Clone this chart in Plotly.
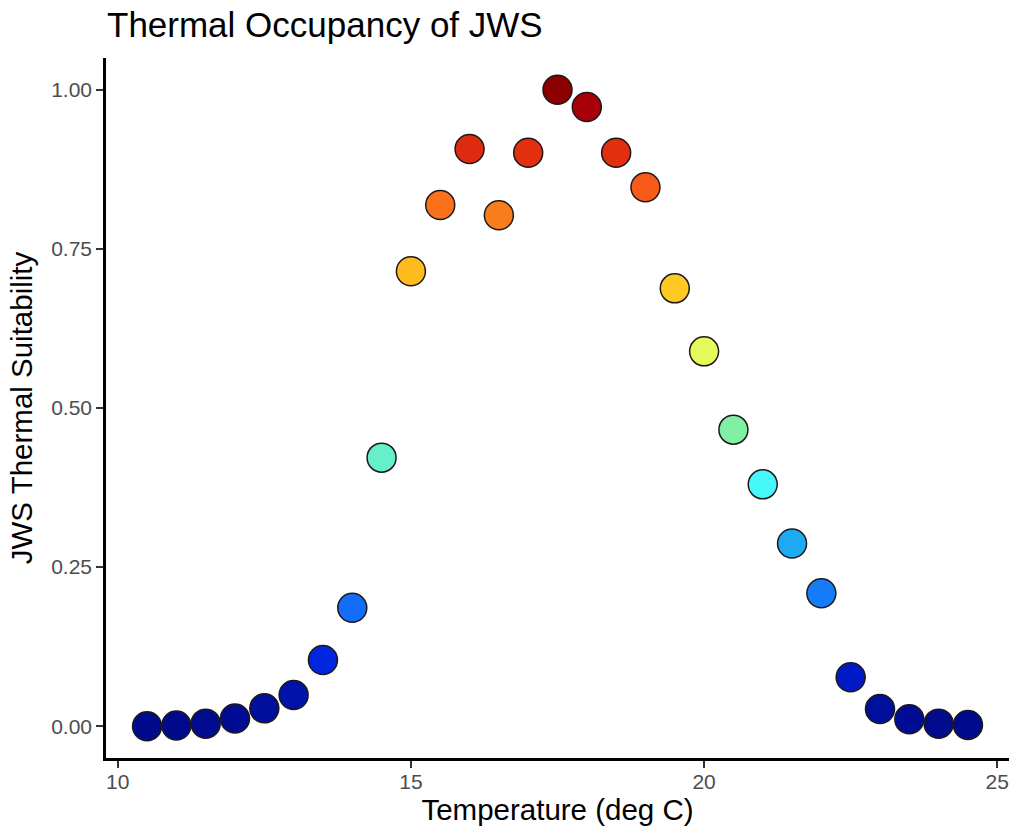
import plotly.graph_objects as go

temperature = [10.5, 11, 11.5, 12, 12.5, 13, 13.5, 14, 14.5, 15, 15.5, 16, 16.5, 17,
               17.5, 18, 18.5, 19, 19.5, 20, 20.5, 21, 21.5, 22, 22.5, 23, 23.5, 24, 24.5]
suitability = [0.000, 0.001, 0.004, 0.012, 0.028, 0.049, 0.104, 0.186, 0.422, 0.715,
               0.819, 0.907, 0.803, 0.901, 1.000, 0.973, 0.901, 0.847, 0.688, 0.589,
               0.466, 0.380, 0.287, 0.209, 0.077, 0.027, 0.011, 0.004, 0.002]

x_ticks = [10, 15, 20, 25]
y_ticks = [0.0, 0.25, 0.5, 0.75, 1.0]
y_ticklabels = ["0.00", "0.25", "0.50", "0.75", "1.00"]

# jet-like fill scale (style)
colorscale = [
    [0.00, "rgb(0,10,140)"],
    [0.05, "rgb(0,18,170)"],
    [0.10, "rgb(0,35,222)"],
    [0.19, "rgb(20,112,250)"],
    [0.29, "rgb(30,172,242)"],
    [0.38, "rgb(70,248,250)"],
    [0.42, "rgb(100,240,205)"],
    [0.47, "rgb(130,240,162)"],
    [0.59, "rgb(230,250,90)"],
    [0.69, "rgb(255,200,35)"],
    [0.72, "rgb(255,185,30)"],
    [0.81, "rgb(250,120,28)"],
    [0.85, "rgb(248,88,28)"],
    [0.90, "rgb(226,48,15)"],
    [0.97, "rgb(170,0,10)"],
    [1.00, "rgb(140,0,0)"],
]

font_family = "Liberation Sans, Arial, Helvetica, sans-serif"

fig = go.Figure()
fig.add_trace(go.Scatter(
    x=temperature, y=suitability, mode="markers",
    marker=dict(size=29, color=suitability, colorscale=colorscale, cmin=0, cmax=1,
                line=dict(color="rgb(30,25,25)", width=1.5)),
    showlegend=False, hoverinfo="x+y",
))

axis_common = dict(
    showgrid=False, zeroline=False, showline=True, linecolor="black", linewidth=2.5,
    ticks="outside", ticklen=7, tickwidth=2, tickcolor="#333333",
    tickfont=dict(family=font_family, size=21, color="#4D4D4D"),
    mirror=False,
)

fig.update_layout(
    width=1014, height=830,
    margin=dict(l=106, r=5, t=58, b=72),
    paper_bgcolor="white", plot_bgcolor="white",
    title=dict(text="Thermal Occupancy of JWS", x=107 / 1014, xref="container", xanchor="left",
               y=1 - 25 / 830, yref="container", yanchor="middle",
               font=dict(family=font_family, size=35, color="black")),
    xaxis=dict(range=[9.8, 25.2], tickvals=x_ticks, ticklabelstandoff=-4,
               title=dict(text="Temperature (deg C)", standoff=2,
                          font=dict(family=font_family, size=29.5, color="black")),
               **axis_common),
    yaxis=dict(range=[-0.05, 1.05], tickvals=y_ticks, ticktext=y_ticklabels,
               title=dict(text="JWS Thermal Suitability", standoff=10,
                          font=dict(family=font_family, size=29.5, color="black")),
               **axis_common),
)

fig.write_html("out.html")
